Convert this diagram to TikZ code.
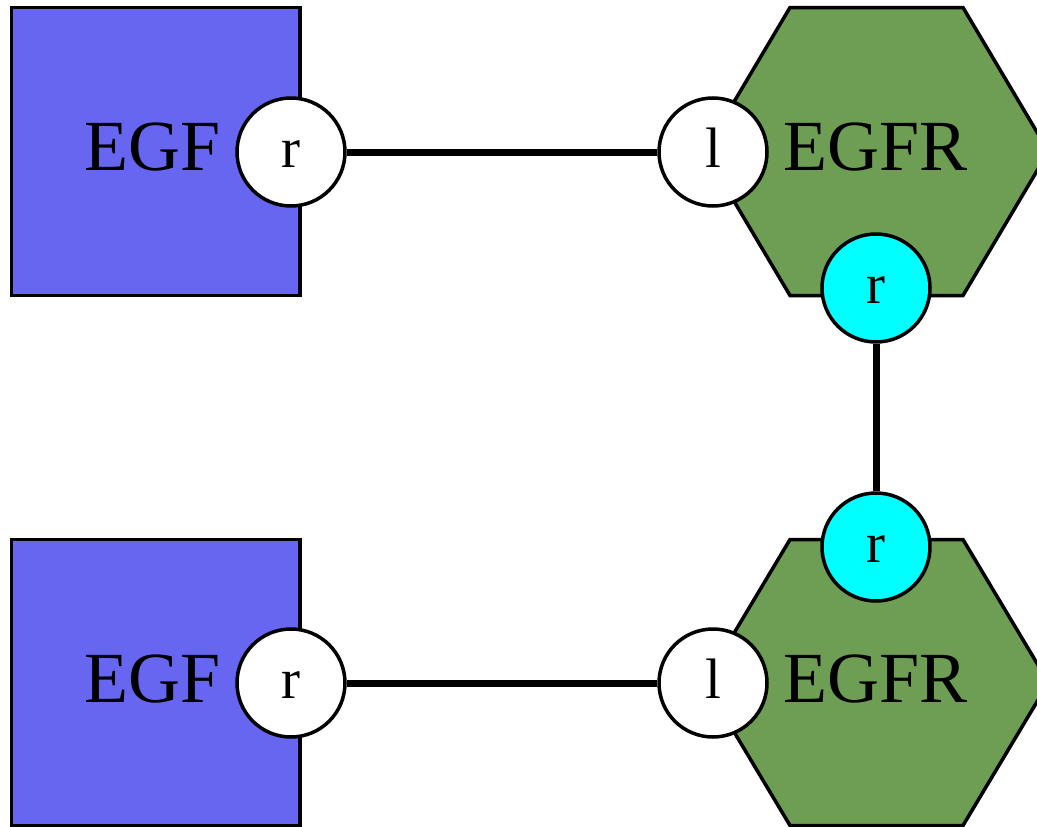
\documentclass[tikz,border=0pt]{standalone}
\usepackage{fontspec}
\setmainfont{Liberation Serif}
\usetikzlibrary{calc}
\definecolor{egfblue}{RGB}{102,102,240}
\definecolor{egfrgreen}{RGB}{110,158,84}
\definecolor{sitecyan}{RGB}{0,255,255}
\begin{document}
\begin{tikzpicture}[x=1pt,y=1pt,
  sq/.style={draw=black,line width=3.5pt,fill=egfblue},
  hexa/.style={draw=black,line width=3.5pt,fill=egfrgreen,line join=miter},
  big/.style={font=\fontsize{72}{80}\selectfont,inner sep=0pt,text height=48pt,text depth=0pt},
  site/.style={circle,draw=black,line width=3.5pt,fill=white,minimum size=108pt,inner sep=0pt,
    font=\fontsize{57}{64}\selectfont,text height=30pt,text depth=0pt},
  cyansite/.style={site,fill=sitecyan},
  bond/.style={line width=7pt,draw=black}]
\useasboundingbox (0,0) rectangle (1037,-827);
% EGF squares
\draw[sq] (11.5,-7.5) rectangle (300,-295.5);
\draw[sq] (11.5,-539.5) rectangle (300,-825.5);
\node[big] (egf1) at (153,-146) {EGF};
\node[big] (egf2) at (153,-678) {EGF};
% EGFR hexagons
\coordinate (h1) at (876.5,-151.5);
\coordinate (h2) at (876.5,-682.5);
\draw[hexa] ($(h1)+(-172,0)$) -- ($(h1)+(-86.5,144)$) -- ($(h1)+(86.5,144)$) -- ($(h1)+(172,0)$) -- ($(h1)+(86.5,-144)$) -- ($(h1)+(-86.5,-144)$) -- cycle;
\draw[hexa] ($(h2)+(-172,0)$) -- ($(h2)+(-86.5,143)$) -- ($(h2)+(86.5,143)$) -- ($(h2)+(172,0)$) -- ($(h2)+(86.5,-143)$) -- ($(h2)+(-86.5,-143)$) -- cycle;
\node[big] (egfr1) at (875.5,-146) {EGFR};
\node[big] (egfr2) at (875.5,-678) {EGFR};
% sites
\node[site] (r1) at (291,-152) {r};
\node[site] (l1) at (713,-152) {l};
\node[cyansite] (c1) at (876,-288) {r};
\node[cyansite] (c2) at (876,-547) {r};
\node[site] (l2) at (713,-683) {l};
\node[site] (r2) at (291,-683) {r};
% bonds
\draw[bond] (r1) -- (l1);
\draw[bond] (r2) -- (l2);
\draw[bond] (c1) -- (c2);
\end{tikzpicture}
\end{document}
